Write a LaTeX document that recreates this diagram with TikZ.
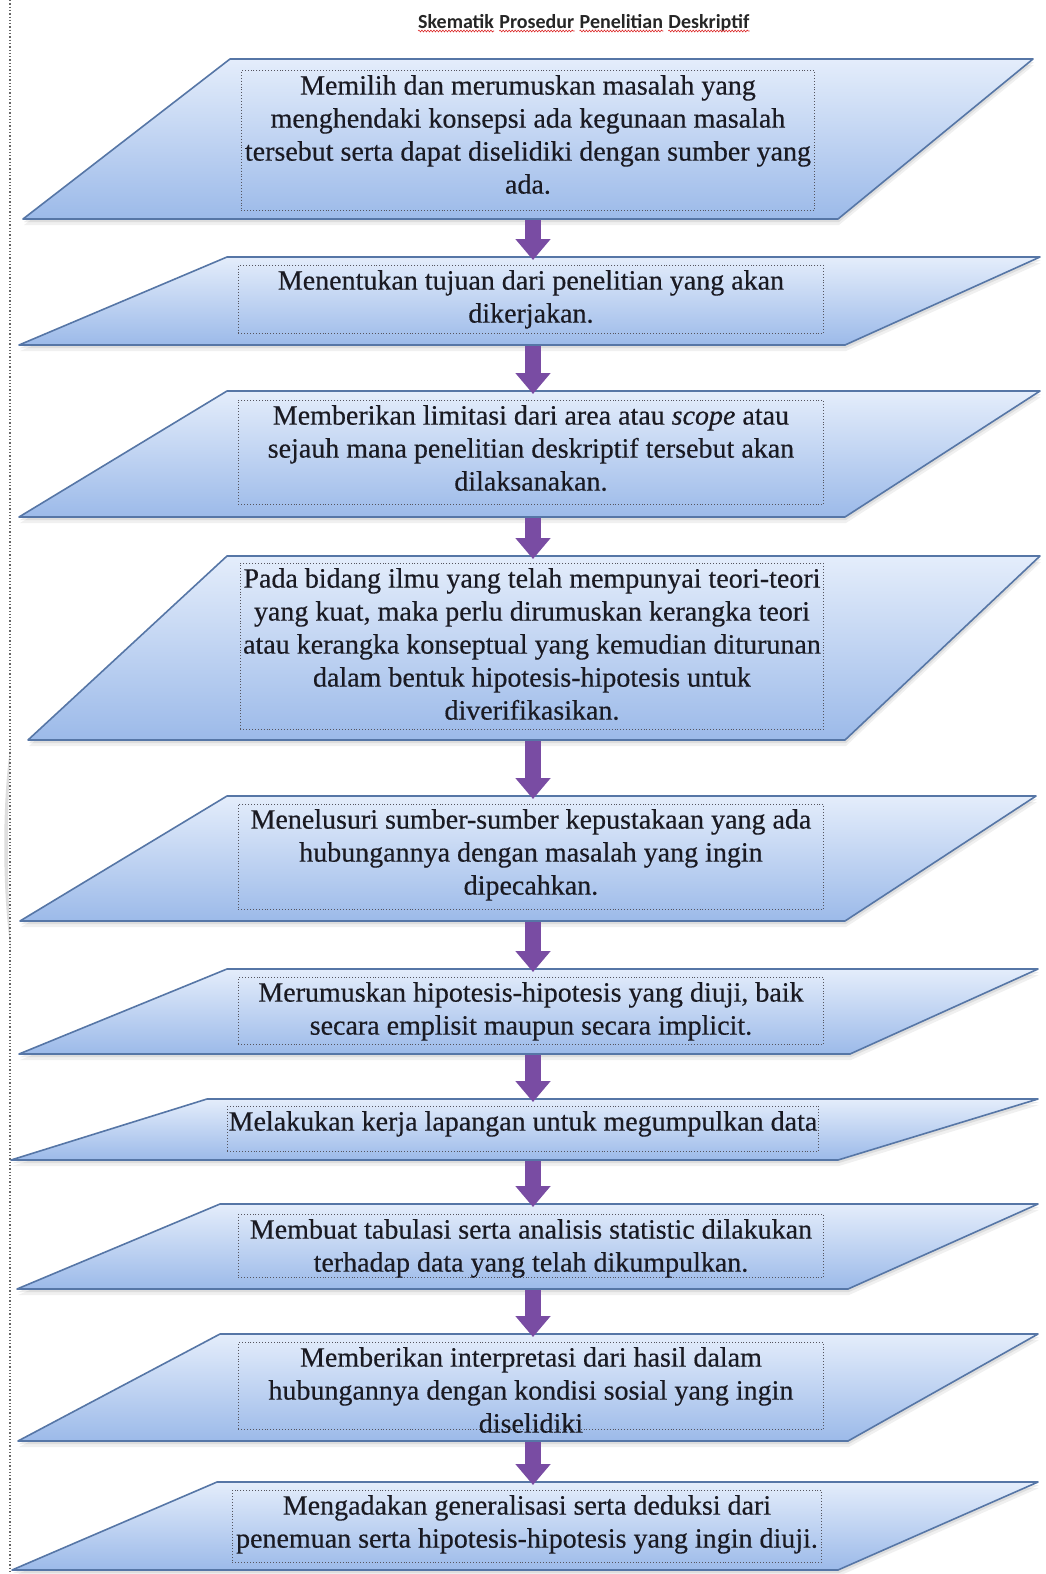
\documentclass[tikz,border=0pt]{standalone}
\usepackage{fontspec}
\setmainfont{Liberation Serif}
\newfontfamily\bodyfont{Liberation Serif}[FakeBold=0.4]
\newfontfamily\titlefont{Carlito}
\usetikzlibrary{arrows.meta,decorations.pathmorphing}
\definecolor{paraedge}{RGB}{86,118,166}
\definecolor{paratop}{RGB}{228,237,251}
\definecolor{parabot}{RGB}{156,186,233}
\definecolor{arrowpurple}{RGB}{121,76,163}
\definecolor{boxline}{RGB}{85,85,95}
\definecolor{txtcol}{RGB}{26,26,34}
\definecolor{wavered}{RGB}{220,40,40}
\tikzset{
  tbox/.style={draw=boxline, dotted, line width=0.9pt, inner sep=0pt, anchor=north west},
  txt/.style={font=\bodyfont\fontsize{28}{33}\selectfont, align=center, inner sep=0pt, text=txtcol, anchor=north},
  flowarrow/.style={draw=arrowpurple, line width=16pt, -{Triangle[width=34pt,length=21pt]}, shorten >=-3pt},
  ttl/.style={font=\titlefont\bfseries\fontsize{20}{24}\selectfont, inner sep=0pt, anchor=base west, text=black!85},
  wave/.style={draw=wavered, line width=0.6pt, decorate, decoration={snake, amplitude=0.9pt, segment length=3pt}}
}
% name, top, bottom, top-left x, top-right x, bottom-left x, bottom-right x
\newcommand\paragr[7]{%
  \fill[black, opacity=0.06] (#4+1,#2+6) -- (#5+1,#2+6) -- (#7+1,#3+6) -- (#6+1,#3+6) -- cycle;
  \fill[black, opacity=0.08] (#4+1,#2+3) -- (#5+1,#2+3) -- (#7+1,#3+3) -- (#6+1,#3+3) -- cycle;
  \path[top color=paratop, bottom color=parabot, draw=paraedge, line width=1.6pt, line join=round]
    (#4,#2) -- (#5,#2) -- (#7,#3) -- (#6,#3) -- cycle;
  \coordinate (#1-top) at (533,#2);
  \coordinate (#1-bot) at (533,#3+1);
}
\begin{document}
\begin{tikzpicture}[x=1pt,y=-1pt]
\useasboundingbox (0,0) rectangle (1045,1574);
\fill[white] (0,0) rectangle (1045,1574);

% faint margin marks
\fill[black!13] (11,742) .. controls (2,800) and (2,890) .. (11,952) .. controls (7,890) and (7,800) .. (11,742) -- cycle;
\draw[black!60, dotted, line width=1.3pt] (10,0) -- (10,1574);

% title
\node[ttl] (w1) at (418,28) {Skematik};
\node[ttl] (w2) at ([xshift=5pt]w1.base east) {Prosedur};
\node[ttl] (w3) at ([xshift=5pt]w2.base east) {Penelitian};
\node[ttl] (w4) at ([xshift=5pt]w3.base east) {Deskriptif};
\foreach \w in {w1,w2,w3,w4}{\draw[wave] ([yshift=-3pt]\w.base west) -- ([yshift=-3pt]\w.base east);}

% parallelograms
\paragr{p1}{59}{219}{230}{1033}{23}{838}
\paragr{p2}{257}{345}{227}{1040}{19}{845}
\paragr{p3}{391}{517}{227}{1040}{19}{845}
\paragr{p4}{556}{740}{227}{1040}{28}{845}
\paragr{p5}{796}{921}{227}{1036}{20}{845}
\paragr{p6}{969}{1054}{227}{1038}{19}{850}
\paragr{p7}{1099}{1160}{207}{1038}{11}{838}
\paragr{p8}{1204}{1289}{220}{1038}{17}{848}
\paragr{p9}{1334}{1441}{220}{1038}{18}{848}
\paragr{p10}{1482}{1570}{217}{1038}{12}{838}

% dotted text boxes
\node[tbox, minimum width=573pt, minimum height=140pt] (b1) at (241,70) {};
\node[tbox, minimum width=585pt, minimum height=68pt] (b2) at (238,265) {};
\node[tbox, minimum width=585pt, minimum height=104pt] (b3) at (238,400) {};
\node[tbox, minimum width=583pt, minimum height=166pt] (b4) at (240,563) {};
\node[tbox, minimum width=585pt, minimum height=105pt] (b5) at (238,804) {};
\node[tbox, minimum width=585pt, minimum height=67pt] (b6) at (238,977) {};
\node[tbox, minimum width=591pt, minimum height=45pt] (b7) at (227,1106) {};
\node[tbox, minimum width=585pt, minimum height=63pt] (b8) at (238,1214) {};
\node[tbox, minimum width=585pt, minimum height=87pt] (b9) at (238,1342) {};
\node[tbox, minimum width=589pt, minimum height=72pt] (b10) at (232,1490) {};

% texts
\node[txt] (t1) at ([yshift=-5pt]b1.north) {Memilih dan merumuskan masalah yang\\menghendaki konsepsi ada kegunaan masalah\\tersebut serta dapat diselidiki dengan sumber yang\\ada.};
\node[txt] (t2) at ([yshift=-5pt]b2.north) {Menentukan tujuan dari penelitian yang akan\\dikerjakan.};
\node[txt] (t3) at ([yshift=-5pt]b3.north) {Memberikan limitasi dari area atau \textit{scope} atau\\sejauh mana penelitian deskriptif tersebut akan\\dilaksanakan.};
\node[txt] (t4) at ([yshift=-5pt]b4.north) {Pada bidang ilmu yang telah mempunyai teori-teori\\yang kuat, maka perlu dirumuskan kerangka teori\\atau kerangka konseptual yang kemudian diturunan\\dalam bentuk hipotesis-hipotesis untuk\\diverifikasikan.};
\node[txt] (t5) at ([yshift=-5pt]b5.north) {Menelusuri sumber-sumber kepustakaan yang ada\\hubungannya dengan masalah yang ingin\\dipecahkan.};
\node[txt] (t6) at ([yshift=-5pt]b6.north) {Merumuskan hipotesis-hipotesis yang diuji, baik\\secara emplisit maupun secara implicit.};
\node[txt] (t7) at ([yshift=-5pt]b7.north) {Melakukan kerja lapangan untuk megumpulkan data};
\node[txt] (t8) at ([yshift=-5pt]b8.north) {Membuat tabulasi serta analisis statistic dilakukan\\terhadap data yang telah dikumpulkan.};
\node[txt] (t9) at ([yshift=-5pt]b9.north) {Memberikan interpretasi dari hasil dalam\\hubungannya dengan kondisi sosial yang ingin\\diselidiki};
\node[txt] (t10) at ([yshift=-5pt]b10.north) {Mengadakan generalisasi serta deduksi dari\\penemuan serta hipotesis-hipotesis yang ingin diuji.};

% arrows
\draw[flowarrow] (p1-bot) -- (p2-top);
\draw[flowarrow] (p2-bot) -- (p3-top);
\draw[flowarrow] (p3-bot) -- (p4-top);
\draw[flowarrow] (p4-bot) -- (p5-top);
\draw[flowarrow] (p5-bot) -- (p6-top);
\draw[flowarrow] (p6-bot) -- (p7-top);
\draw[flowarrow] (p7-bot) -- (p8-top);
\draw[flowarrow] (p8-bot) -- (p9-top);
\draw[flowarrow] (p9-bot) -- (p10-top);
\end{tikzpicture}
\end{document}
